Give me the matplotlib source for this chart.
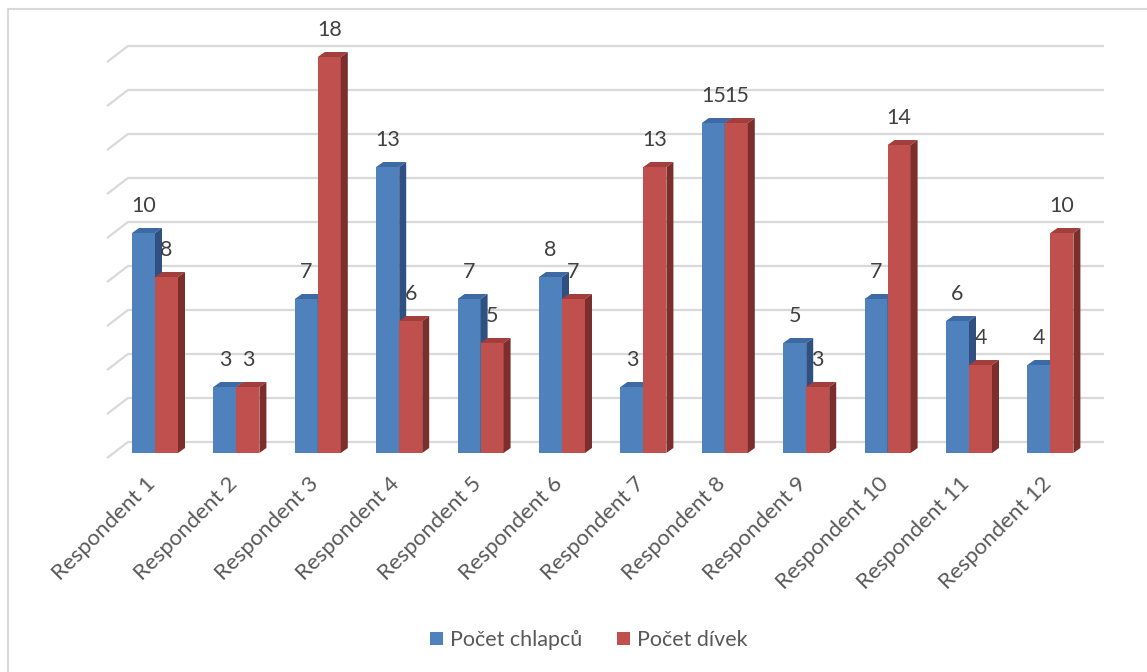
import matplotlib
matplotlib.use("Agg")
import matplotlib.pyplot as plt
from matplotlib.patches import Polygon, Patch
from matplotlib.lines import Line2D
import numpy as np

plt.rcParams['font.family'] = ['Lato', 'DejaVu Sans']

categories = ["Respondent 1", "Respondent 2", "Respondent 3", "Respondent 4",
              "Respondent 5", "Respondent 6", "Respondent 7", "Respondent 8",
              "Respondent 9", "Respondent 10", "Respondent 11", "Respondent 12"]
boys = [10, 3, 7, 13, 7, 8, 3, 15, 5, 7, 6, 4]
girls = [8, 3, 18, 6, 5, 7, 13, 15, 3, 14, 4, 10]
series_names = ["Počet chlapců", "Počet dívek"]
grid_values = np.arange(0, 20, 2)

# colours: front, top, side
blue = ("#4f81bd", "#3d6aa3", "#2f5080")
red = ("#c0504d", "#a23f3c", "#7c2e2c")

W, H = 1147, 672
fig = plt.figure(figsize=(W / 100, H / 100), dpi=100)
ax = fig.add_axes([0, 0, 1, 1])
ax.axis("off")

# pixel-ish layout: category step 81.4 px, 22 px per unit
px_x = 81.4
px_y = 22.0
x0_px, y0_px = 155, 442
ax.set_xlim(-x0_px / px_x, (W - x0_px) / px_x)
ax.set_ylim((y0_px - H) / px_y, y0_px / px_y)

dx = 7 / px_x      # bar depth
dy = 5 / px_y
base = -0.5        # front face floor
bw = 23 / px_x     # bar width

# gridlines with slanted wall part
gl_front = (107 - x0_px) / px_x
gl_back = (128 - x0_px) / px_x
gl_end = (1104 - x0_px) / px_x
for g in grid_values:
    ax.plot([gl_front, gl_back, gl_end], [g - 16 / px_y, g, g],
            color="#d9d9d9", lw=1.6, zorder=1, solid_capstyle="butt")

x = np.arange(len(categories))


def draw_bar(xl, v, cols):
    top = base + v
    ax.add_patch(Polygon([(xl, base), (xl + bw, base), (xl + bw, top), (xl, top)],
                         closed=True, fc=cols[0], ec="none", zorder=3))
    ax.add_patch(Polygon([(xl, top), (xl + bw, top), (xl + bw + dx, top + dy), (xl + dx, top + dy)],
                         closed=True, fc=cols[1], ec="none", zorder=3))
    ax.add_patch(Polygon([(xl + bw, base), (xl + bw + dx, base + dy), (xl + bw + dx, top + dy), (xl + bw, top)],
                         closed=True, fc=cols[2], ec="none", zorder=3))
    ax.text(xl + bw / 2, top + 0.75, str(v), ha="center", va="bottom",
            fontsize=15.5, color="#404040", zorder=5)


for i in x:
    draw_bar(i - bw, boys[i], blue)
    draw_bar(i, girls[i], red)

for i, lab in zip(x, categories):
    ax.text(i - 0.03, -1.75, lab, rotation=45, rotation_mode="anchor",
            ha="right", va="center", fontsize=16, color="#595959")

handles = [Patch(fc=blue[0], ec="none"), Patch(fc=red[0], ec="none")]
fig.legend(handles, series_names, loc="center", ncol=2, frameon=False,
           bbox_to_anchor=(589 / W, 1 - 640 / H), fontsize=15.5,
           handlelength=0.6, handleheight=0.6, handletextpad=0.35,
           columnspacing=1.6, labelcolor="#595959")

# chart border (left and top visible)
fig.add_artist(Line2D([8 / W, 8 / W], [0, 1 - 9 / H], color="#d9d9d9", lw=1.5))
fig.add_artist(Line2D([8 / W, 1], [1 - 9 / H, 1 - 9 / H], color="#d9d9d9", lw=1.5))

fig.savefig("out.png", dpi=100, facecolor="white")
